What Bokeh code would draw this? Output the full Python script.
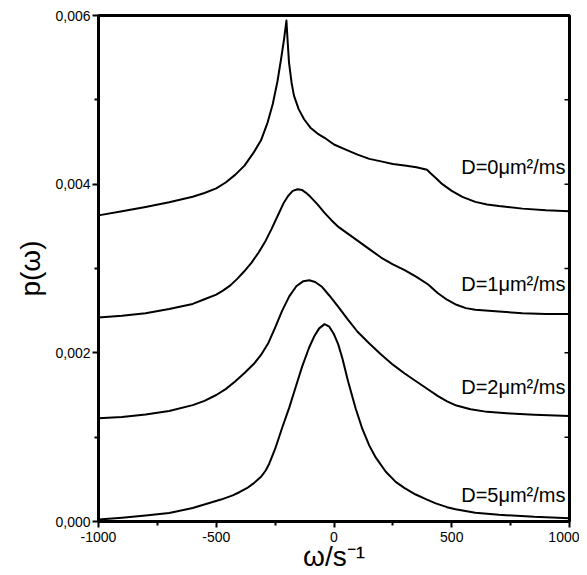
import math
from bokeh.plotting import figure
from bokeh.models import FixedTicker, CustomJSTickFormatter, Range1d
from bokeh.core.properties import value
from bokeh.embed import file_html
from bokeh.resources import INLINE

# ---- data (omega in 1/s, p(omega) in units of 1e-3) ----
x_d0 = [-1000, -900, -800, -700, -600, -550, -500, -460, -420, -380, -340, -310, -282, -260, -240, -225, -212, -202,
        -197, -191, -180, -170, -150, -127, -100, -70, -40, 0, 50, 100, 150, 200, 250, 300, 350, 395,
        410, 430, 460, 500, 545, 600, 650, 700, 800, 900, 1000]
y_d0 = [3.63, 3.68, 3.73, 3.785, 3.85, 3.895, 3.95, 4.02, 4.11, 4.22, 4.38, 4.52, 4.73, 4.95, 5.22, 5.48, 5.72, 5.94,
        5.70, 5.44, 5.20, 5.05, 4.89, 4.77, 4.67, 4.60, 4.55, 4.47, 4.41, 4.35, 4.30, 4.27, 4.24, 4.22, 4.20, 4.17,
        4.13, 4.08, 4.00, 3.92, 3.85, 3.79, 3.76, 3.74, 3.71, 3.69, 3.68]

x_d1 = [-1000, -900, -800, -700, -600, -550, -500, -470, -440, -410, -380, -350, -320, -290, -265, -240, -215, -195,
        -175, -155, -135, -120, -100, -70, -40, -10, 20, 60, 100, 150, 200, 250, 300, 350, 400, 440, 480, 520,
        560, 600, 700, 800, 900, 1000]
y_d1 = [2.42, 2.44, 2.47, 2.52, 2.58, 2.635, 2.69, 2.74, 2.80, 2.88, 2.97, 3.07, 3.19, 3.33, 3.47, 3.62, 3.77, 3.86,
        3.92, 3.94, 3.93, 3.90, 3.85, 3.76, 3.66, 3.57, 3.49, 3.41, 3.33, 3.23, 3.13, 3.05, 2.98, 2.90, 2.81, 2.71,
        2.63, 2.57, 2.53, 2.51, 2.49, 2.47, 2.46, 2.46]

x_d2 = [-1000, -900, -800, -700, -600, -550, -500, -460, -420, -380, -340, -310, -280, -250, -220, -190, -160, -130,
        -105, -80, -50, -20, 20, 60, 100, 150, 200, 250, 300, 350, 400, 440, 480, 520, 580, 650, 750, 850, 1000]
y_d2 = [1.225, 1.24, 1.27, 1.31, 1.38, 1.43, 1.50, 1.57, 1.66, 1.76, 1.87, 1.975, 2.11, 2.30, 2.50, 2.67, 2.79, 2.85,
        2.86, 2.84, 2.78, 2.68, 2.54, 2.39, 2.25, 2.11, 1.98, 1.86, 1.755, 1.66, 1.565, 1.49, 1.425, 1.375, 1.33,
        1.30, 1.28, 1.265, 1.25]

x_d5 = [-1000, -900, -800, -700, -600, -540, -480, -430, -400, -370, -340, -310, -290, -275, -250, -219, -190, -162,
        -135, -106, -85, -63, -40, -20, 0, 18, 36, 60, 92, 120, 150, 177, 220, 262, 300, 347, 390, 432, 480, 516,
        600, 700, 850, 1000]
y_d5 = [0.025, 0.045, 0.07, 0.10, 0.16, 0.21, 0.26, 0.31, 0.35, 0.395, 0.455, 0.53, 0.605, 0.685, 0.86, 1.12, 1.35,
        1.60, 1.84, 2.06, 2.19, 2.29, 2.34, 2.31, 2.22, 2.10, 1.93, 1.66, 1.34, 1.10, 0.90, 0.76, 0.59, 0.47, 0.395,
        0.32, 0.265, 0.215, 0.17, 0.145, 0.105, 0.08, 0.055, 0.04]

labels = ["D=0\u03bcm\u00b2/ms", "D=1\u03bcm\u00b2/ms", "D=2\u03bcm\u00b2/ms", "D=5\u03bcm\u00b2/ms"]
label_y = [4.20, 2.82, 1.59, 0.31]   # in units of 1e-3

x_ticks = [-1000, -500, 0, 500, 1000]
x_minor = [-750, -250, 250, 750]
y_ticks = [0.000, 0.002, 0.004, 0.006]
y_minor = [0.001, 0.003, 0.005]

SCALE = 1e-3
FONT = "Liberation Sans"

p = figure(frame_width=471, frame_height=506,
           x_range=Range1d(-1000, 1000), y_range=Range1d(0, 0.006),
           output_backend="svg", toolbar_location=None,
           min_border_left=98, min_border_right=10, min_border_top=15, min_border_bottom=40,
           x_axis_label="\u03c9/s\u207b\u00b9", y_axis_label="p(\u03c9)")

p.grid.visible = False
p.outline_line_color = "black"
p.outline_line_width = 3
p.background_fill_color = "white"
p.border_fill_color = "white"

for xs, ys in [(x_d0, y_d0), (x_d1, y_d1), (x_d2, y_d2), (x_d5, y_d5)]:
    p.line(xs, [v * SCALE for v in ys], line_color="black", line_width=2, line_join="round")

p.text(x=[983] * 4, y=[v * SCALE for v in label_y], text=labels, text_align="right",
       text_baseline="alphabetic", text_font=value(FONT), text_font_size="20px", text_color="black")

# small tick marks along the right frame edge
right_ticks = sorted(y_ticks + y_minor)[1:-1]
p.ray(x=[1000] * len(right_ticks), y=right_ticks, length=5, angle=math.pi,
      length_units="screen", line_color="black", line_width=1.5)

xa = p.xaxis[0]
xa.ticker = FixedTicker(ticks=x_ticks, minor_ticks=x_minor)
xa.formatter = CustomJSTickFormatter(code="return tick.toFixed(0);")
ya = p.yaxis[0]
ya.ticker = FixedTicker(ticks=y_ticks, minor_ticks=y_minor)
ya.formatter = CustomJSTickFormatter(code="return tick.toFixed(3).replace('.', ',');")

for ax in (xa, ya):
    ax.axis_line_width = 3
    ax.axis_line_color = "black"
    ax.major_tick_line_width = 2
    ax.minor_tick_line_width = 2
    ax.major_tick_out = 6
    ax.major_tick_in = 0
    ax.minor_tick_out = 4
    ax.minor_tick_in = 0
    ax.major_label_text_font = FONT
    ax.major_label_text_font_size = "14px"
    ax.major_label_text_color = "black"
    ax.axis_label_text_font = FONT
    ax.axis_label_text_font_size = "28px"
    ax.axis_label_text_font_style = "normal"
    ax.axis_label_text_color = "black"

xa.major_label_standoff = 4
xa.axis_label_standoff = -4
ya.major_label_standoff = 2
ya.axis_label_standoff = 6

html = file_html(p, INLINE)
open("out.html", "w").write(html)
